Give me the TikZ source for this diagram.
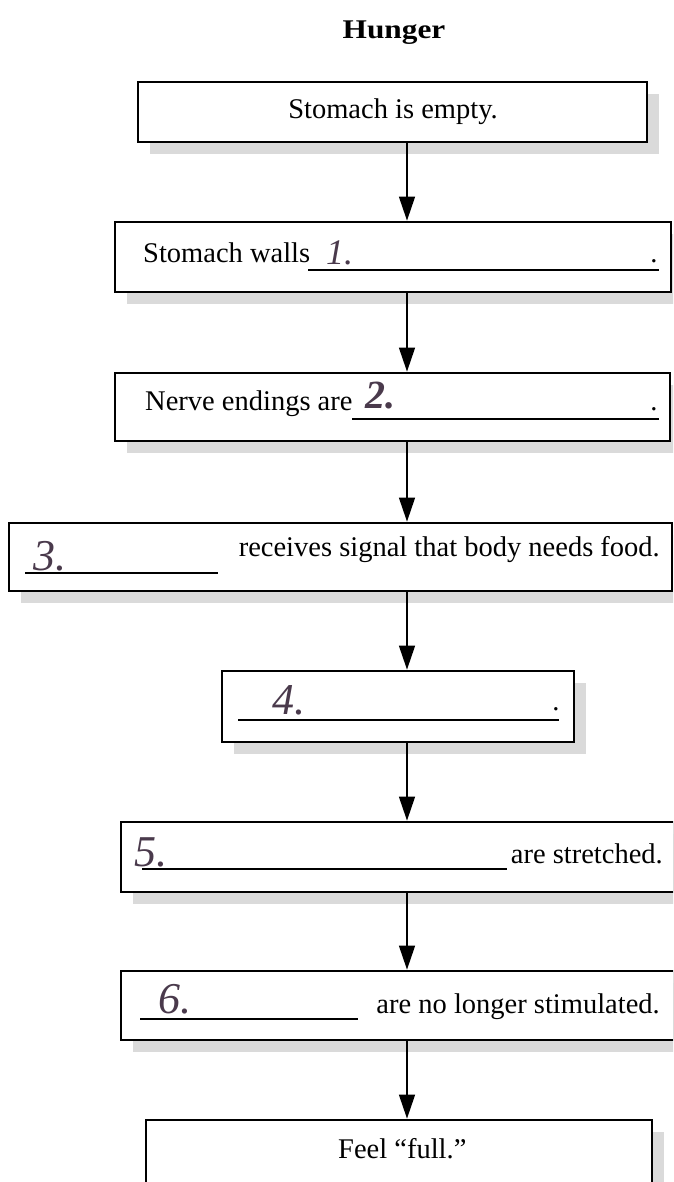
\documentclass[tikz,border=0pt]{standalone}
\usepackage{fontspec}
\setmainfont{Liberation Serif}
\usetikzlibrary{arrows.meta}
\definecolor{ink}{HTML}{4A3A4C}
\definecolor{shade}{HTML}{DADADA}
\tikzset{
  box/.style={draw=black, line width=2.8pt, fill=white, inner sep=0pt, rectangle},
  flow/.style={draw=black, line width=1.4pt, -{Triangle[length=24pt,width=16pt]}},
  body/.style={font=\fontsize{28.5}{34}\selectfont, inner sep=0pt},
  hand/.style={font=\fontsize{44}{50}\selectfont\itshape, text=ink, inner sep=0pt},
  blank/.style={draw=black, line width=1.4pt},
  shadow/.style={fill=shade, draw=none},
}
\newcommand{\flowbox}[5]{%
  \fill[shadow] (#2+12,#3+12) rectangle (#4+12,#5+12);
  \node[box, minimum width={#4-#2}, minimum height={#5-#3}] (#1) at ({(#2+#4)/2},{(#3+#5)/2}) {};
}
\begin{document}
\begin{tikzpicture}[x=1pt,y=-1pt]
\useasboundingbox (0,0) rectangle (673,1182);
\clip (0,0) rectangle (673,1182);
\fill[white] (0,0) rectangle (673,1182);

% title
\node[font=\fontsize{27}{32}\selectfont\bfseries, inner sep=0pt, anchor=base] (title) at (394,39) {\scalebox{1.16}[1]{Hunger}};

% boxes
\flowbox{B1}{138}{82}{647}{142}
\flowbox{B2}{115}{222}{671}{292}
\flowbox{B3}{115}{373}{670}{441}
\flowbox{B4}{9}{523}{672}{591}
\flowbox{B5}{222}{671}{574}{742}
\flowbox{B6}{121}{822}{674}{892}
\flowbox{B7}{121}{971}{674}{1040}
\flowbox{B8}{146}{1120}{652}{1194}

% box 1
\node[body, anchor=base] (t1) at (393,119) {Stomach is empty.};

% box 2
\node[body, anchor=base west] (t2) at (143,262) {Stomach walls};
\draw[blank] (308,270) -- (659,270);
\node[body, anchor=base] (d2) at (654,262) {.};
\node[hand, anchor=base west, font=\fontsize{36}{40}\selectfont\itshape] (h1) at (326,264) {1.};

% box 3
\node[body, anchor=base west] (t3) at (145,410) {Nerve endings are};
\draw[blank] (352,419) -- (659,419);
\node[body, anchor=base] (d3) at (654,410) {.};
\node[hand, anchor=base west, font=\fontsize{40}{44}\selectfont\itshape\bfseries] (h2) at (365,408) {2.};

% box 4
\draw[blank] (25,573) -- (218,573);
\node[hand, anchor=base west] (h3) at (33,570) {3.};
\node[body, anchor=base east] (t4) at (660,556) {receives signal that body needs food.};

% box 5
\draw[blank] (238,720) -- (559,720);
\node[hand, anchor=base west] (h4) at (272,714) {4.};
\node[body, anchor=base] (d5) at (556,710) {.};

% box 6
\draw[blank] (142,869) -- (507,869);
\node[hand, anchor=base west] (h5) at (134,866) {5.};
\node[body, anchor=base east] (t6) at (663,863) {are stretched.};

% box 7
\draw[blank] (140,1019) -- (358,1019);
\node[hand, anchor=base west] (h6) at (158,1013) {6.};
\node[body, anchor=base east] (t7) at (660,1013) {are no longer stimulated.};

% box 8
\node[body, anchor=base west] (t8) at (338,1158) {Feel “full.”};

% arrows
\coordinate (ax) at (407,0);
\draw[flow] (B1.south -| ax) -- (B2.north -| ax);
\draw[flow] (B2.south -| ax) -- (B3.north -| ax);
\draw[flow] (B3.south -| ax) -- (B4.north -| ax);
\draw[flow] (B4.south -| ax) -- (B5.north -| ax);
\draw[flow] (B5.south -| ax) -- (B6.north -| ax);
\draw[flow] (B6.south -| ax) -- (B7.north -| ax);
\draw[flow] (B7.south -| ax) -- (B8.north -| ax);
\end{tikzpicture}
\end{document}
